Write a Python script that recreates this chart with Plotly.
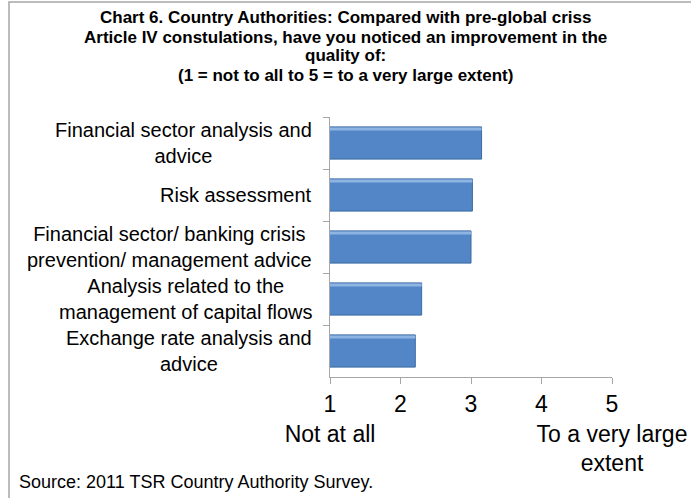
import plotly.graph_objects as go

# Survey items (top to bottom) and their mean scores on a 1-5 scale
categories = [
    "Financial sector analysis and<br>advice",
    "Risk assessment",
    "Financial sector/ banking crisis<br>prevention/ management advice",
    "Analysis related to the<br>management of capital flows",
    "Exchange rate analysis and<br>advice",
]
scores = [3.15, 3.02, 3.00, 2.30, 2.21]

tick_values = [1, 2, 3, 4, 5]
tick_labels = ["1<br>Not at all", "2", "3", "4", "5<br>To a very large<br>extent"]

title_lines = [
    "Chart 6. Country Authorities: Compared with pre-global criss",
    "Article IV constulations, have you noticed an improvement in the",
    "quality of:",
    "(1 = not to all to 5 = to a very large extent)",
]
source_text = "Source: 2011 TSR Country Authority Survey."

W, H = 691, 498
ML, MR, MT, MB = 330, 79, 117, 121
plot_w = W - ML - MR
plot_h = H - MT - MB


def px_x(x):
    return (x - ML) / plot_w


def px_y(y):
    return (H - MB - y) / plot_h


BODY = "Liberation Sans, Arial, sans-serif"

fig = go.Figure()

# main bars
fig.add_trace(go.Bar(
    x=scores, y=categories, orientation="h",
    width=0.62,
    marker=dict(color="#5386C6", line=dict(color="#3D6AA3", width=1)),
    hoverinfo="x+y",
))
# light bevel strip along the top of each bar
fig.add_trace(go.Bar(
    x=scores, y=categories, orientation="h",
    width=0.06, offset=-0.30,
    marker=dict(color="#8EB4E3", line=dict(width=0)),
    hoverinfo="skip",
))

fig.update_layout(
    width=W, height=H,
    margin=dict(l=ML, r=MR, t=MT, b=MB, autoexpand=False),
    paper_bgcolor="white", plot_bgcolor="white",
    barmode="overlay",
    showlegend=False,
    font=dict(family=BODY, color="black"),
)

fig.update_xaxes(
    range=[1, 5],
    tickvals=tick_values, ticktext=tick_labels,
    tickangle=0, automargin=False,
    tickfont=dict(size=23, family=BODY, color="black"),
    showgrid=False, zeroline=False,
    showline=True, linecolor="#A6A6A6", linewidth=1,
    ticks="outside", ticklen=6, tickcolor="#A6A6A6",
)
fig.update_yaxes(
    type="category",
    autorange="reversed",
    showticklabels=False, automargin=False,
    tickson="boundaries",
    showgrid=False, zeroline=False,
    showline=True, linecolor="#A6A6A6", linewidth=1,
    ticks="outside", ticklen=6, tickcolor="#A6A6A6",
)

# category labels: centred lines, right-aligned block
for cat in categories:
    fig.add_annotation(
        x=0, xref="paper", y=cat, yref="y",
        xanchor="right", yanchor="middle", xshift=-16,
        text=cat, align="center", showarrow=False,
        font=dict(size=20, family=BODY, color="black"),
    )

# title, one line per annotation for tight leading
title_y = [17, 37, 56, 76]
for line, yp in zip(title_lines, title_y):
    fig.add_annotation(
        x=px_x(W / 2), xref="paper", y=px_y(yp), yref="paper",
        xanchor="center", yanchor="middle",
        text="<b>" + line + "</b>", showarrow=False,
        font=dict(size=17, family=BODY, color="black"),
    )

fig.add_annotation(
    x=px_x(17), xref="paper", y=px_y(482), yref="paper",
    xanchor="left", yanchor="middle",
    text=source_text, showarrow=False,
    font=dict(size=18, family=BODY, color="black"),
)

# chart frame
fig.add_shape(
    type="rect", xref="paper", yref="paper",
    x0=px_x(9), x1=px_x(W + 10), y0=px_y(H + 10), y1=px_y(2),
    line=dict(color="#A6A6A6", width=1.5), fillcolor="rgba(0,0,0,0)",
    layer="below",
)

fig.write_html("out.html")
